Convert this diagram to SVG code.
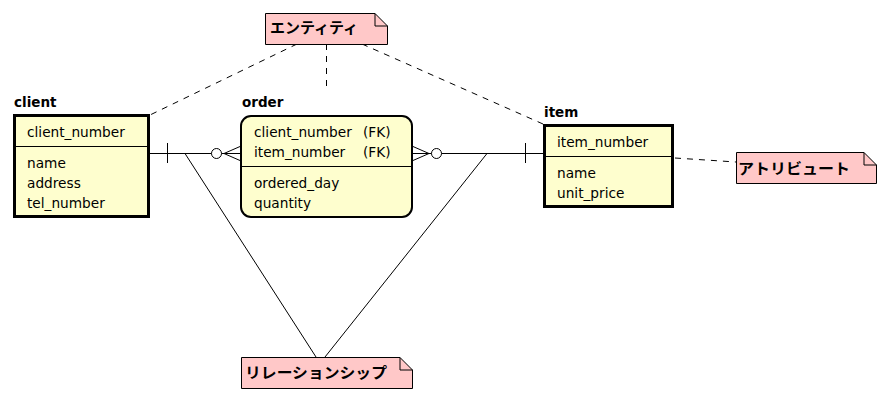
<svg xmlns="http://www.w3.org/2000/svg" width="889" height="401" viewBox="0 0 889 401">
<style>
.ent{fill:#FEFECE;stroke:#000;}
.title{font-family:"DejaVu Sans",sans-serif;font-weight:bold;font-size:13.5px;fill:#000;}
.attr{font-family:"DejaVu Sans",sans-serif;font-size:13.7px;fill:#000;}
.note{fill:#FFC8C8;stroke:#000;stroke-width:1;}
.jp{font-family:"Noto Sans CJK JP",sans-serif;font-size:15px;font-weight:bold;fill:#000;}
.ln{stroke:#000;stroke-width:1;fill:none;}
.dash{stroke:#000;stroke-width:1;fill:none;stroke-dasharray:6,6;}
</style>
<rect width="889" height="401" fill="#fff"/>
<g id="connectors">
  <line class="ln" x1="150" y1="153.5" x2="211.5" y2="153.5"/>
  <line class="ln" x1="167.5" y1="143" x2="167.5" y2="163"/>
  <circle class="ln" cx="216.5" cy="153.5" r="5"/>
  <path class="ln" d="M221.5 153.5 H240 M224 153.5 L240 146.5 M224 153.5 L240 160.5"/>
  <path class="ln" d="M413 153.5 H431.5 M429 153.5 L413 146.5 M429 153.5 L413 160.5"/>
  <circle class="ln" cx="436.5" cy="153.5" r="5"/>
  <line class="ln" x1="441.5" y1="153.5" x2="543" y2="153.5"/>
  <line class="ln" x1="525.5" y1="143" x2="525.5" y2="163"/>
  <line class="ln" x1="185" y1="153.5" x2="316" y2="357"/>
  <line class="ln" x1="487" y1="153.5" x2="325" y2="357"/>
  <line class="dash" x1="297" y1="44" x2="150" y2="115"/>
  <line class="dash" x1="326.5" y1="44" x2="326.5" y2="91"/>
  <line class="dash" x1="362" y1="44" x2="543" y2="124"/>
  <line class="dash" x1="675" y1="158" x2="736" y2="162"/>
</g>
<g id="client">
  <text class="title" x="14" y="107">client</text>
  <rect class="ent" x="14.5" y="115.5" width="134" height="101" stroke-width="3"/>
  <line class="ln" x1="14" y1="146.5" x2="149" y2="146.5"/>
  <text class="attr" x="27" y="137">client_number</text>
  <text class="attr" x="27" y="168">name</text>
  <text class="attr" x="27" y="188">address</text>
  <text class="attr" x="27" y="208">tel_number</text>
</g>
<g id="order">
  <text class="title" x="242" y="107">order</text>
  <rect class="ent" x="241" y="116" width="171" height="101" rx="10" stroke-width="2"/>
  <line class="ln" x1="241" y1="166.5" x2="412" y2="166.5"/>
  <text class="attr" x="254" y="137">client_number</text>
  <text class="attr" x="363" y="137">(FK)</text>
  <text class="attr" x="254" y="157">item_number</text>
  <text class="attr" x="363" y="157">(FK)</text>
  <text class="attr" x="254" y="188">ordered_day</text>
  <text class="attr" x="254" y="208">quantity</text>
</g>
<g id="item">
  <text class="title" x="544" y="117">item</text>
  <rect class="ent" x="544.5" y="125.5" width="128" height="81" stroke-width="3"/>
  <line class="ln" x1="544" y1="156.5" x2="673" y2="156.5"/>
  <text class="attr" x="557" y="147">item_number</text>
  <text class="attr" x="557" y="178">name</text>
  <text class="attr" x="557" y="198">unit_price</text>
</g>
<g id="note-entity">
  <path class="note" d="M265.5 13.5 H375 L387.5 26 V44.5 H265.5 Z"/>
  <path class="ln" d="M375 13.5 V26 H387.5"/>
  <text class="jp" x="270" y="33" textLength="88" lengthAdjust="spacingAndGlyphs">エンティティ</text>
</g>
<g id="note-attribute">
  <path class="note" d="M736.5 152.5 H864 L876.5 165 V183.5 H736.5 Z"/>
  <path class="ln" d="M864 152.5 V165 H876.5"/>
  <text class="jp" x="738" y="174" textLength="112" lengthAdjust="spacingAndGlyphs">アトリビュート</text>
</g>
<g id="note-relationship">
  <path class="note" d="M241.5 357.5 H400 L412.5 370 V388.5 H241.5 Z"/>
  <path class="ln" d="M400 357.5 V370 H412.5"/>
  <text class="jp" x="245" y="378" textLength="142" lengthAdjust="spacingAndGlyphs">リレーションシップ</text>
</g>
</svg>
